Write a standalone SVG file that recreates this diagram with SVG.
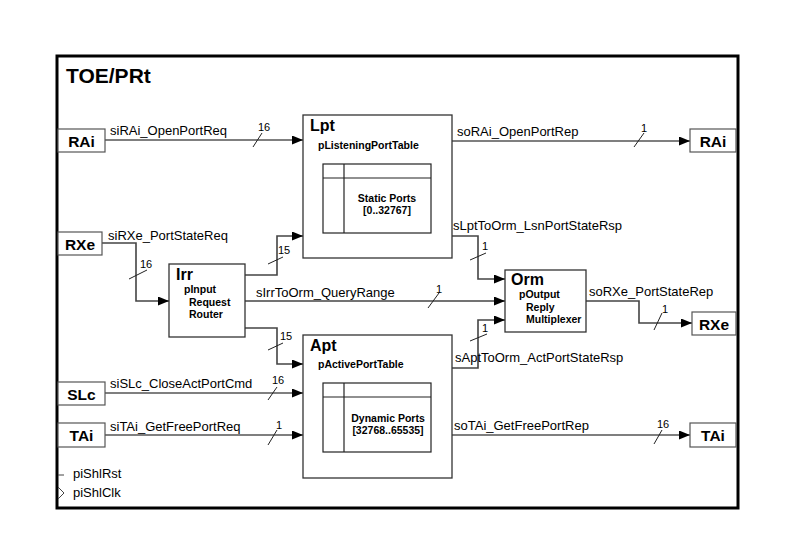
<svg xmlns="http://www.w3.org/2000/svg" width="794" height="559" viewBox="0 0 794 559">
<defs>
<marker id="ah" markerWidth="11" markerHeight="9" refX="11" refY="4.5" orient="auto" markerUnits="userSpaceOnUse">
<path d="M0,0 L11,4.5 L0,9 z" fill="#000"/>
</marker>
<style>
text{font-family:"Liberation Sans",Arial,sans-serif;fill:#000}
.lbl{font-size:13px}
.num{font-size:11px}
.port{font-size:15.5px;font-weight:bold}
.blk{font-size:16px;font-weight:bold}
.sub{font-size:10.5px;font-weight:bold}
.pbox{fill:#fff;stroke:#555;stroke-width:1.2}
.bbox{fill:#fff;stroke:#333;stroke-width:1.3}
.tbl{fill:none;stroke:#222;stroke-width:1.2}
.w{fill:none;stroke:#000;stroke-width:1.2}
.wi{fill:none;stroke:#444;stroke-width:1.6}
.tick{stroke:#222;stroke-width:1}
</style>
</defs>
<rect width="794" height="559" fill="#fff"/>
<g id="frame">
<rect x="57" y="56" width="681" height="452" fill="none" stroke="#000" stroke-width="3"/>
<text x="66" y="83" style="font-size:21px;font-weight:bold">TOE/PRt</text>
</g>

<g id="connectors">
<polyline class="w" points="105,140 303,140" marker-end="url(#ah)"/>
<polyline class="wi" points="102,243 136,243 136,301 169,301" marker-end="url(#ah)"/>
<polyline class="wi" points="245,275 277,275 277,236 303,236" marker-end="url(#ah)"/>
<polyline class="wi" points="245,328 277,328 277,364 303,364" marker-end="url(#ah)"/>
<polyline class="wi" points="245,301 505,301" marker-end="url(#ah)"/>
<polyline class="wi" points="452,236 478,236 478,279 505,279" marker-end="url(#ah)"/>
<polyline class="wi" points="452,368 478,368 478,320 505,320" marker-end="url(#ah)"/>
<polyline class="wi" points="586,301 639,301 639,323 692,323" marker-end="url(#ah)"/>
<polyline class="w" points="105,393 303,393" marker-end="url(#ah)"/>
<polyline class="w" points="105,435 303,435" marker-end="url(#ah)"/>
<polyline class="w" points="452,141 690,141" marker-end="url(#ah)"/>
<polyline class="w" points="452,435 690,435" marker-end="url(#ah)"/>
<line class="tick" x1="253" y1="147" x2="262" y2="133"/>
<line class="tick" x1="129" y1="279" x2="147" y2="270"/>
<line class="tick" x1="268" y1="264" x2="283" y2="257"/>
<line class="tick" x1="268" y1="350" x2="283" y2="343"/>
<line class="tick" x1="428" y1="308" x2="439" y2="293"/>
<line class="tick" x1="470" y1="260" x2="486" y2="253"/>
<line class="tick" x1="470" y1="341" x2="487" y2="334"/>
<line class="tick" x1="654" y1="330" x2="662" y2="313"/>
<line class="tick" x1="634" y1="147" x2="644" y2="133"/>
<line class="tick" x1="268" y1="400" x2="277" y2="387"/>
<line class="tick" x1="268" y1="445" x2="277" y2="430"/>
<line class="tick" x1="654" y1="444" x2="662" y2="430"/>
<text class="lbl" x="110" y="135">siRAi_OpenPortReq</text>
<text class="num" x="258" y="131">16</text>
<text class="lbl" x="108" y="240">siRXe_PortStateReq</text>
<text class="num" x="140" y="268">16</text>
<text class="num" x="278" y="254">15</text>
<text class="num" x="280" y="340">15</text>
<text class="lbl" x="256" y="297">sIrrToOrm_QueryRange</text>
<text class="num" x="436" y="293">1</text>
<text class="lbl" x="453" y="230">sLptToOrm_LsnPortStateRsp</text>
<text class="num" x="482" y="250">1</text>
<text class="lbl" x="455" y="362">sAptToOrm_ActPortStateRsp</text>
<text class="num" x="482" y="332">1</text>
<text class="lbl" x="589" y="296">soRXe_PortStateRep</text>
<text class="num" x="662" y="313">1</text>
<text class="lbl" x="457" y="136">soRAi_OpenPortRep</text>
<text class="num" x="641" y="132">1</text>
<text class="lbl" x="110" y="388">siSLc_CloseActPortCmd</text>
<text class="num" x="272" y="384">16</text>
<text class="lbl" x="110" y="431">siTAi_GetFreePortReq</text>
<text class="num" x="276" y="429">1</text>
<text class="lbl" x="454" y="430">soTAi_GetFreePortRep</text>
<text class="num" x="657" y="428">16</text>
</g>

<g id="RAi_in">
<rect class="pbox" x="58" y="129" width="47" height="23"/>
<text class="port" x="81.5" y="146.5" text-anchor="middle">RAi</text>
</g>
<g id="RXe_in">
<rect class="pbox" x="58" y="232" width="44" height="23"/>
<text class="port" x="80" y="249.5" text-anchor="middle">RXe</text>
</g>
<g id="SLc_in">
<rect class="pbox" x="58" y="382" width="47" height="23"/>
<text class="port" x="81.5" y="399.5" text-anchor="middle">SLc</text>
</g>
<g id="TAi_in">
<rect class="pbox" x="58" y="423" width="47" height="24"/>
<text class="port" x="81.5" y="441" text-anchor="middle">TAi</text>
</g>
<g id="RAi_out">
<rect class="pbox" x="690" y="129" width="46" height="23"/>
<text class="port" x="713" y="146.5" text-anchor="middle">RAi</text>
</g>
<g id="RXe_out">
<rect class="pbox" x="692" y="312" width="44" height="23"/>
<text class="port" x="714" y="329.5" text-anchor="middle">RXe</text>
</g>
<g id="TAi_out">
<rect class="pbox" x="690" y="423" width="46" height="24"/>
<text class="port" x="713" y="441" text-anchor="middle">TAi</text>
</g>

<g id="Lpt">
<rect class="bbox" x="303" y="115" width="149" height="143"/>
<text class="blk" x="310" y="131">Lpt</text>
<text class="sub" x="318" y="149">pListeningPortTable</text>
<rect class="tbl" x="323" y="164" width="108" height="69"/>
<line class="tbl" x1="323" y1="178" x2="431" y2="178"/>
<line class="tbl" x1="344" y1="164" x2="344" y2="233"/>
<text class="sub" x="387" y="202" text-anchor="middle">Static Ports</text>
<text class="sub" x="387" y="214" text-anchor="middle">[0..32767]</text>
</g>

<g id="Irr">
<rect class="bbox" x="169" y="264" width="76" height="73"/>
<text class="blk" x="176" y="280">Irr</text>
<text class="sub" x="184" y="293">pInput</text>
<text class="sub" x="189" y="306">Request</text>
<text class="sub" x="189" y="318">Router</text>
</g>

<g id="Orm">
<rect class="bbox" x="505" y="270" width="81" height="62"/>
<text class="blk" x="511" y="285">Orm</text>
<text class="sub" x="519" y="298">pOutput</text>
<text class="sub" x="526" y="311">Reply</text>
<text class="sub" x="526" y="323">Multiplexer</text>
</g>

<g id="Apt">
<rect class="bbox" x="303" y="335" width="149" height="143"/>
<text class="blk" x="310" y="351">Apt</text>
<text class="sub" x="318" y="368">pActivePortTable</text>
<rect class="tbl" x="323" y="383" width="108" height="69"/>
<line class="tbl" x1="323" y1="397" x2="431" y2="397"/>
<line class="tbl" x1="344" y1="383" x2="344" y2="452"/>
<text class="sub" x="388" y="422" text-anchor="middle">Dynamic Ports</text>
<text class="sub" x="388" y="434" text-anchor="middle">[32768..65535]</text>
</g>

<g id="piShlRst">
<line x1="58" y1="475" x2="64" y2="475" stroke="#444" stroke-width="1"/>
<text class="lbl" x="73" y="478">piShlRst</text>
</g>
<g id="piShlClk">
<polyline points="58,487 64,493 58,499" fill="none" stroke="#444" stroke-width="1"/>
<text class="lbl" x="73" y="497">piShlClk</text>
</g>
</svg>
